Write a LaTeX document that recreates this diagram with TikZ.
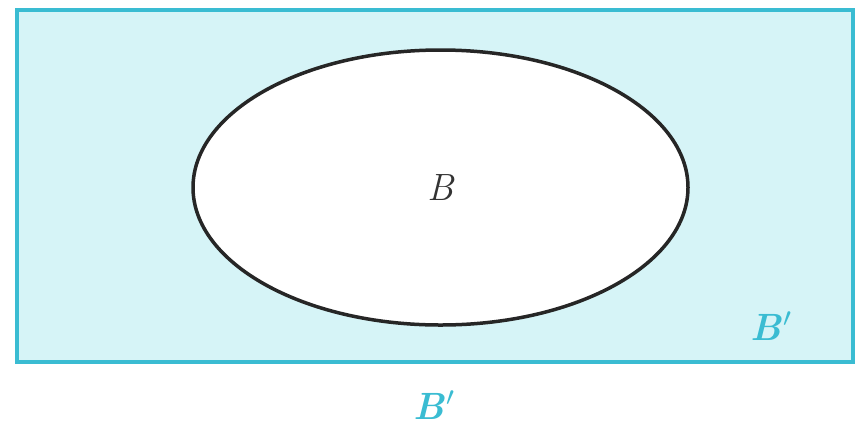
\documentclass[tikz,border=0pt]{standalone}
\usepackage{tikz}
\usetikzlibrary{shapes.geometric, positioning}
\definecolor{vennCyan}{RGB}{58,188,210}
\definecolor{vennFill}{RGB}{214,244,247}
\newcommand{\bigprime}{\kern1pt\scalebox{3.8}{\fontsize{10}{12}\selectfont$'$}}
\tikzset{
  universeBox/.style={rectangle, draw=vennCyan, fill=vennFill, line width=4.5pt, inner sep=0pt, minimum width=836pt, minimum height=352pt},
  setEllipse/.style={ellipse, draw=black!85, fill=white, line width=3.5pt, inner sep=0pt, minimum width=495pt, minimum height=275pt},
  setLabel/.style={font=\fontsize{38}{40}\selectfont\itshape, text=black!80, inner sep=0pt},
  compLabel/.style={font=\fontsize{38}{40}\selectfont\bfseries\itshape, text=vennCyan, inner sep=0pt},
}

\begin{document}
\begin{tikzpicture}[x=1pt, y=-1pt]
\useasboundingbox (0,0) rectangle (859,440);
\node (univ) [universeBox] at (435,186) {};
\node (setB) [setEllipse] at (440.5,187.5) {};
\node (lblB) [setLabel] at (setB.center) {B};

% complement labels
\node (inComp) [compLabel] at (772,326) {B\bigprime};
\node (outComp) [compLabel, below=26pt of univ.south] {B\bigprime};
\end{tikzpicture}
\end{document}
